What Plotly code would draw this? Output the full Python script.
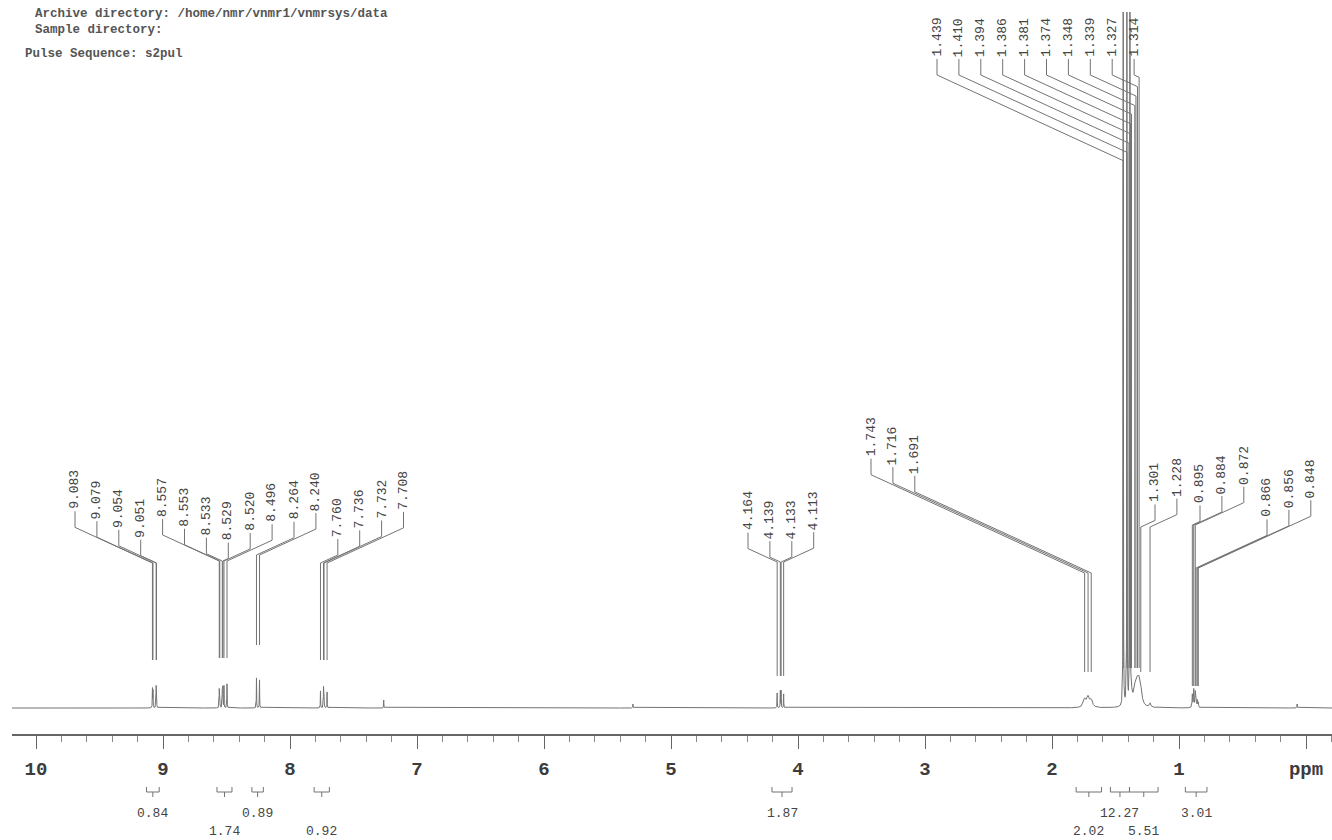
import numpy as np
import plotly.graph_objects as go

# ------------------------------------------------------------------
# DATA
# ------------------------------------------------------------------
# resolved lines: position (ppm), height (intensity units, baseline = 0), half width (ppm)
peak_ppm = [9.083, 9.079, 9.054, 9.051,
            8.557, 8.553, 8.533, 8.529, 8.520, 8.496,
            8.264, 8.240,
            7.760, 7.736, 7.732, 7.708,
            7.262, 5.300,
            4.164, 4.139, 4.133, 4.113,
            1.743, 1.716, 1.691,
            1.439, 1.410, 1.386,
            1.381, 1.374, 1.348, 1.339, 1.327, 1.314, 1.301, 1.228,
            0.895, 0.884, 0.872, 0.866, 0.856, 0.848,
            0.070]
peak_height = [19, 17, 20, 18,
               18, 17, 20, 20, 22, 24,
               30, 28,
               17, 20, 19, 16,
               8, 4,
               15, 17, 17, 14,
               8, 10, 7,
               900, 900, 900,
               7, 7, 9, 11, 14, 17, 11, 4,
               13, 18, 15, 9, 7, 5,
               4]
peak_hwhm = [0.0012, 0.0012, 0.0012, 0.0012,
             0.0012, 0.0012, 0.0012, 0.0012, 0.0012, 0.0012,
             0.0012, 0.0012,
             0.0012, 0.0012, 0.0012, 0.0012,
             0.0012, 0.0012,
             0.0012, 0.0012, 0.0012, 0.0012,
             0.012, 0.012, 0.012,
             0.0010, 0.0010, 0.0010,
             0.010, 0.010, 0.012, 0.012, 0.012, 0.012, 0.012, 0.006,
             0.0025, 0.0025, 0.0025, 0.0025, 0.0025, 0.0025,
             0.0015]

# peak-pick labels, grouped as printed
label_groups = [
    ["9.083", "9.079", "9.054", "9.051"],
    ["8.557", "8.553", "8.533", "8.529", "8.520", "8.496"],
    ["8.264", "8.240"],
    ["7.760", "7.736", "7.732", "7.708"],
    ["4.164", "4.139", "4.133", "4.113"],
    ["1.743", "1.716", "1.691"],
    ["1.439", "1.410", "1.394", "1.386", "1.381", "1.374", "1.348", "1.339", "1.327", "1.314"],
    ["1.301", "1.228"],
    ["0.895", "0.884", "0.872"],
    ["0.866", "0.856", "0.848"],
]

# integrals
integral_from = [9.13, 8.575, 8.30, 7.81, 4.205, 1.81, 1.54, 1.39, 0.95]
integral_to = [9.03, 8.457, 8.21, 7.69, 4.047, 1.61, 1.39, 1.165, 0.78]
integral_value = ["0.84", "1.74", "0.89", "0.92", "1.87", "2.02", "12.27", "5.51", "3.01"]
integral_row = [1, 2, 1, 2, 1, 2, 1, 2, 1]

# axis
axis_tickvals = [10, 9, 8, 7, 6, 5, 4, 3, 2, 1, 0]
axis_ticktext = ["10", "9", "8", "7", "6", "5", "4", "3", "2", "1", "ppm"]

header_lines = ["Archive directory: /home/nmr/vnmr1/vnmrsys/data",
                "Sample directory:",
                "Pulse Sequence: s2pul"]

# ------------------------------------------------------------------
# LAYOUT CALIBRATION (pixel geometry of the printed page)
# ------------------------------------------------------------------
W, H = 1332, 840
PX0, PXPPM, BASE_PX = 1306.0, 127.0, 708.0   # x of 0 ppm, px per ppm, baseline y
PLOT_L, PLOT_T = 12, 12
AXIS_PX = 735
X_RANGE = [(PX0 - PLOT_L) / PXPPM, (PX0 - W) / PXPPM]
Y_RANGE = [BASE_PX - H, BASE_PX - PLOT_T]


def ppm_of_px(px):
    return (PX0 - px) / PXPPM


def I_of_px(py):
    return BASE_PX - py


def px_of_ppm(p):
    return PX0 - PXPPM * p


LINE_COL = "#737373"
TEXT_COL = "#454545"
MONO = "Liberation Mono"

# ------------------------------------------------------------------
# SPECTRUM (sum of Lorentzian lines from the peak table)
# ------------------------------------------------------------------
grid = np.linspace(X_RANGE[1], X_RANGE[0], 26000)
grid = np.unique(np.concatenate([grid, np.array(peak_ppm)]))
spec = np.zeros_like(grid)
for p, h, w in zip(peak_ppm, peak_height, peak_hwhm):
    spec += h * w * w / ((grid - p) ** 2 + w * w)

fig = go.Figure()
fig.add_trace(go.Scatter(x=grid, y=spec, mode="lines",
                         line=dict(color=LINE_COL, width=1),
                         hoverinfo="skip", showlegend=False))

# ------------------------------------------------------------------
# PEAK LABELS with leader lines
# ------------------------------------------------------------------
# per group: first label x (px), converge height / fan knee (px), end of vertical (px), mode
group_geom = [
    (75.0, 563, 660, "conv"),
    (75.0 + 4 * 21.9, 561, 658, "conv"),
    (75.0 + 10 * 21.9, 555, 645, "conv"),
    (75.0 + 12 * 21.9, 563, 660, "conv"),
    (748.0, 562, 676, "conv"),
    (871.0, 573, 672, "conv"),
    (937.0, 75, 668, "fan"),
    (1155.0, 527, 672, "conv"),
    (1200.0, 525, 686, "conv"),
    (1267.0, 568, 686, "conv"),
]
SPACING = 21.9
SLOPE = 0.46
TICK = 17

lx, ly = [], []
for labels, (x0, yj, yend, mode) in zip(label_groups, group_geom):
    for i, lab in enumerate(labels):
        Lx = x0 + SPACING * i
        Px = px_of_ppm(float(lab))
        dx = abs(Lx - Px)
        if mode == "conv":
            knee = yj - SLOPE * dx
            join = yj
        else:
            knee = yj
            join = yj + SLOPE * dx
        tb = knee - TICK
        lx += [ppm_of_px(Lx), ppm_of_px(Lx), ppm_of_px(Px), ppm_of_px(Px), None]
        ly += [I_of_px(tb + 1), I_of_px(knee), I_of_px(join), I_of_px(yend), None]
        fig.add_annotation(x=ppm_of_px(Lx), y=I_of_px(tb), xref="x", yref="y",
                           text=lab, textangle=-90, showarrow=False,
                           xanchor="center", yanchor="bottom",
                           font=dict(family=MONO, size=13, color=TEXT_COL),
                           borderpad=0)

fig.add_trace(go.Scatter(x=lx, y=ly, mode="lines",
                         line=dict(color=LINE_COL, width=1),
                         hoverinfo="skip", showlegend=False))

# ------------------------------------------------------------------
# INTEGRALS
# ------------------------------------------------------------------
bx, by = [], []
for a, b in zip(integral_from, integral_to):
    m = 0.5 * (a + b)
    bx += [a, a, b, b, None, m, m, None]
    by += [I_of_px(787), I_of_px(792), I_of_px(792), I_of_px(787), None,
           I_of_px(792), I_of_px(797), None]
fig.add_trace(go.Scatter(x=bx, y=by, mode="lines",
                         line=dict(color=LINE_COL, width=1),
                         hoverinfo="skip", showlegend=False, cliponaxis=False))
for a, b, v, r in zip(integral_from, integral_to, integral_value, integral_row):
    fig.add_annotation(x=0.5 * (a + b), y=I_of_px(813 if r == 1 else 831),
                       xref="x", yref="y", text=v, showarrow=False,
                       xanchor="center", yanchor="middle",
                       font=dict(family=MONO, size=13, color=TEXT_COL))

# ------------------------------------------------------------------
# HEADER
# ------------------------------------------------------------------
for txt, (hx, hy) in zip(header_lines, [(33, 14), (33, 30), (23, 54)]):
    fig.add_annotation(x=(hx - PLOT_L) / (W - PLOT_L), y=(H - hy) / (H - PLOT_T),
                       xref="paper", yref="paper", text=txt, showarrow=False,
                       xanchor="left", yanchor="middle",
                       font=dict(family=MONO, size=12.5, color="#555", weight="bold"))

fig.update_layout(
    width=W, height=H,
    margin=dict(l=PLOT_L, r=0, t=PLOT_T, b=0),
    paper_bgcolor="white", plot_bgcolor="white",
    showlegend=False,
    xaxis=dict(range=X_RANGE, anchor="free", position=(H - AXIS_PX) / (H - PLOT_T),
               side="bottom",
               showline=True, linecolor="#666666", linewidth=1.5,
               showgrid=False, zeroline=False,
               tickmode="array", tickvals=axis_tickvals, ticktext=axis_ticktext,
               ticks="outside", ticklen=13, tickwidth=1.3, tickcolor="#666666",
               ticklabelstandoff=3,
               tickfont=dict(family=MONO, size=19, color="#3c3c3c", weight="bold"),
               minor=dict(tick0=0, dtick=0.2, ticks="outside", ticklen=6,
                          tickwidth=1, tickcolor="#888888")),
    yaxis=dict(range=Y_RANGE, visible=False, showgrid=False, zeroline=False),
)

fig.write_html("out.html")
